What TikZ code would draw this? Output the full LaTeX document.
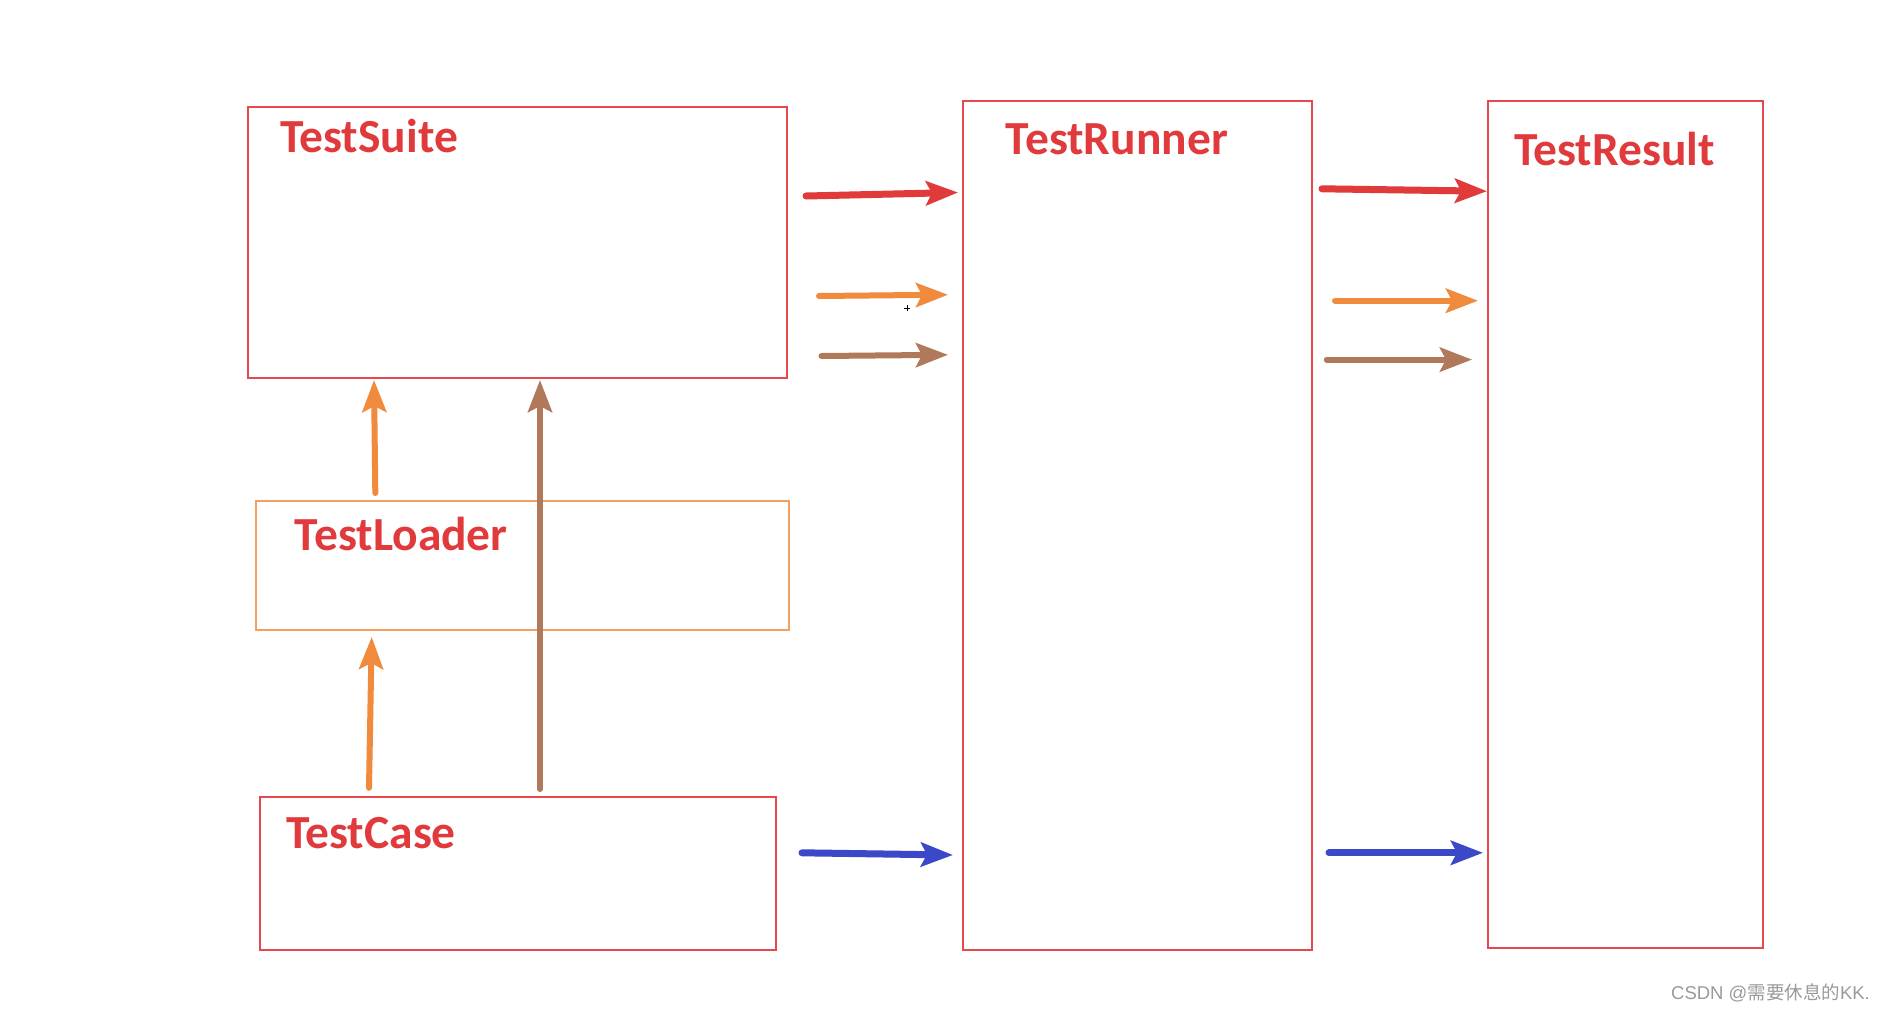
\documentclass[tikz,border=0pt]{standalone}
\usepackage{fontspec}
\setmainfont{Carlito}
\newfontfamily\wmfont{Liberation Sans}
\newfontfamily\cjk{Noto Sans CJK SC}
\usetikzlibrary{arrows.meta}
\definecolor{boxred}{HTML}{E5484D}
\definecolor{txtred}{HTML}{E03A3C}
\definecolor{arrred}{HTML}{E03A3A}
\definecolor{arrorange}{HTML}{F08A3C}
\definecolor{boxorange}{HTML}{F4A060}
\definecolor{arrbrown}{HTML}{B07A5A}
\definecolor{arrblue}{HTML}{3B48C8}
\definecolor{wmgray}{HTML}{9A9A9A}
\tikzset{
  redbox/.style={draw=boxred, line width=2pt, rectangle, inner sep=0pt, anchor=north west},
  orangebox/.style={draw=boxorange, line width=2pt, rectangle, inner sep=0pt, anchor=north west},
  lbl/.style={text=txtred, font=\bfseries\fontsize{47.5}{57}\selectfont, inner sep=0pt, anchor=base west},
  conn/.style={line cap=round, -{Stealth[length=32pt,width=24pt,inset=6pt]}},
  redarr/.style={conn, draw=arrred, fill=arrred, line width=7pt},
  orarr/.style={conn, draw=arrorange, fill=arrorange, line width=6pt},
  brarr/.style={conn, draw=arrbrown, fill=arrbrown, line width=6pt},
  blarr/.style={conn, draw=arrblue, fill=arrblue, line width=7pt},
}
\begin{document}
\begin{tikzpicture}[x=1pt,y=-1pt]
\fill[white] (0,0) rectangle (1886,1010);
\useasboundingbox (0,0) rectangle (1886,1010);
% boxes
\node[redbox, minimum width=539pt, minimum height=271pt] (suite) at (246.6,105.8) {};
\node[orangebox, minimum width=533pt, minimum height=129pt] (loader) at (255,500.4) {};
\node[redbox, minimum width=516pt, minimum height=153pt] (case) at (258.6,796.3) {};
\node[redbox, minimum width=349pt, minimum height=849pt] (runner) at (962.2,99.8) {};
\node[redbox, minimum width=275pt, minimum height=847pt] (result) at (1486.7,99.8) {};
% labels
\node[lbl] (suitelbl) at (280,152) {TestSuite};
\node[lbl] (runnerlbl) at (1005.5,154.5) {TestRunner};
\node[lbl] (resultlbl) at (1514,165.5) {TestResult};
\node[lbl] (loaderlbl) at (294.7,550.5) {TestLoader};
\node[lbl] (caselbl) at (286,848.5) {TestCase};
% arrow end points
\coordinate (r1s) at (806,196);   \coordinate (r1e) at (958,192.5);
\coordinate (o1s) at (819,296);   \coordinate (o1e) at (948,294.7);
\coordinate (b1s) at (821.5,356); \coordinate (b1e) at (948,354.8);
\coordinate (u1s) at (802,852.8); \coordinate (u1e) at (953,855);
\coordinate (r2s) at (1322,188.8); \coordinate (r2e) at (1487,191.2);
\coordinate (o2s) at (1335,300.7); \coordinate (o2e) at (1478,300.7);
\coordinate (b2s) at (1326.7,359.6); \coordinate (b2e) at (1472,359.6);
\coordinate (u2s) at (1329,852.8); \coordinate (u2e) at (1483,852.8);
\coordinate (v1s) at (375.3,493); \coordinate (v1e) at (374,380);
\coordinate (v2s) at (540,789);   \coordinate (v2e) at (540,380);
\coordinate (v3s) at (369,787.8); \coordinate (v3e) at (371.7,637);
% connectors
\draw[redarr] (r1s) -- (r1e);
\draw[orarr] (o1s) -- (o1e);
\draw[brarr] (b1s) -- (b1e);
\draw[blarr] (u1s) -- (u1e);
\draw[redarr] (r2s) -- (r2e);
\draw[orarr] (o2s) -- (o2e);
\draw[brarr] (b2s) -- (b2e);
\draw[blarr] (u2s) -- (u2e);
\draw[orarr] (v1s) -- (v1e);
\draw[brarr] (v2s) -- (v2e);
\draw[orarr] (v3s) -- (v3e);
% small cursor mark
\draw[black, line width=1pt] (904,308) -- (910,308) (907,305) -- (907,311);
% watermark
\node[text=wmgray, font=\wmfont\fontsize{18.5}{22}\selectfont, inner sep=0pt, anchor=base east] (wm) at (1870,999) {CSDN @{\cjk 需要休息的}KK.};
\end{tikzpicture}
\end{document}
